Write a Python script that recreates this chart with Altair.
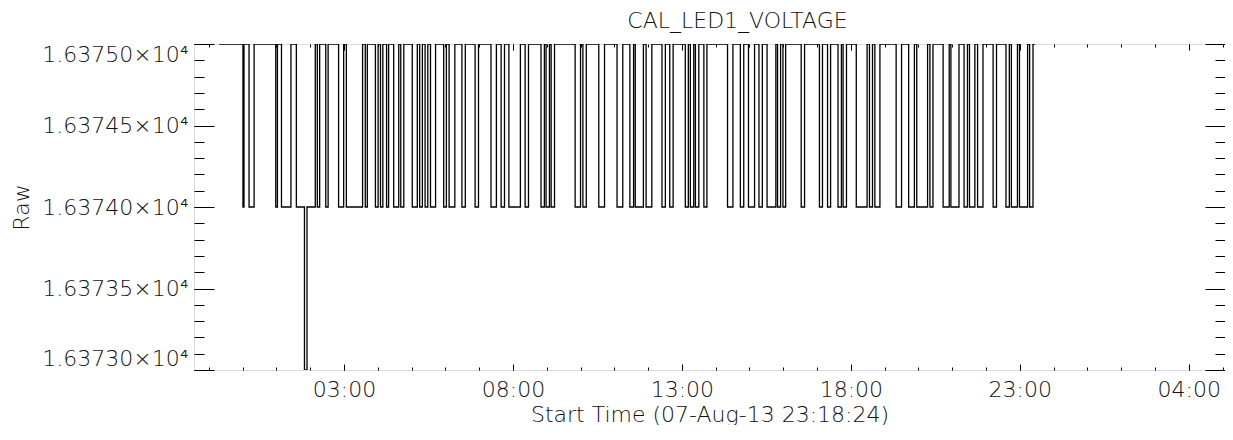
import altair as alt
import pandas as pd

# Transition times, hours relative to 08-Aug 00:00 (start time 07-Aug-13 23:18:24)
t_start = -0.693
t_end = 23.45
level_hi = 16375.0
level_lo = 16374.0
spike_level = 16373.0
spike_start = [1.83]
spike_end = [1.905]

dip_start = [0.01, 0.19, 0.98, 1.15, 1.59, 2.21, 2.46, 2.84, 3.07, 3.63,
             3.93, 4.08, 4.26, 4.47, 4.68, 5.02, 5.24, 5.40, 5.56, 5.95,
             6.11, 6.49, 6.88, 7.35, 7.65, 7.88, 8.36, 8.83, 8.98, 9.13,
             9.84, 10.07, 10.54, 11.08, 11.46, 11.62, 11.94, 12.41, 12.64, 13.10,
             13.25, 13.40, 13.65, 14.35, 14.73, 14.97, 15.28, 15.52, 15.83, 15.99,
             16.53, 17.07, 17.31, 17.62, 17.77, 18.16, 18.55, 18.71, 19.34, 19.71,
             19.95, 20.34, 20.73, 20.96, 21.35, 21.51, 21.75, 22.21, 22.59, 22.75,
             22.99, 23.29]
dip_end = [0.04, 0.34, 1.03, 1.43, 2.15, 2.28, 2.53, 2.99, 3.55, 3.69,
           4.01, 4.15, 4.32, 4.62, 4.77, 5.17, 5.32, 5.48, 5.71, 6.03,
           6.28, 6.59, 6.98, 7.51, 7.75, 8.22, 8.46, 8.93, 9.08, 9.23,
           10.00, 10.17, 10.71, 11.25, 11.57, 11.86, 12.11, 12.51, 12.74, 13.19,
           13.35, 13.50, 13.74, 14.51, 14.83, 15.15, 15.38, 15.78, 15.92, 16.07,
           16.63, 17.16, 17.40, 17.72, 17.87, 18.48, 18.64, 18.86, 19.50, 19.88,
           20.27, 20.43, 20.91, 21.20, 21.45, 21.67, 21.91, 22.31, 22.69, 22.93,
           23.23, 23.39]

x_major = [3, 8, 13, 18, 23, 28]
x_minor = list(range(-1, 30))
y_major = [16373.0, 16373.5, 16374.0, 16374.5, 16375.0]
y_minor = [round(16373.0 + 0.1 * i, 1) for i in range(21)]

rows = [(t_start, level_hi)]
for s, e in zip(dip_start, dip_end):
    rows.append((s, level_lo))
    rows.append((e, level_hi))
for s, e in zip(spike_start, spike_end):
    rows.append((s, spike_level))
    rows.append((e, level_lo))
rows.append((t_end, level_hi))
rows.sort()
df = pd.DataFrame(rows, columns=["t", "v"])

W, H = 1031, 326
FONT = "DejaVu Sans"
FS = 22
TXT = "#111111"
xs = alt.Scale(domain=[-1.439, 29.072], nice=False, zero=False)
ys = alt.Scale(domain=[16373.0, 16375.0], nice=False, zero=False)

def tick_layer(xaxis, yaxis):
    return alt.Chart(df).mark_line(opacity=0).encode(
        x=alt.X("t:Q", scale=xs, axis=xaxis),
        y=alt.Y("v:Q", scale=ys, axis=yaxis),
    )

common = dict(domain=False, labels=False, grid=False, title=None,
              tickColor="black", tickWidth=1)

main = alt.Chart(df).mark_line(
    interpolate="step-after", color="black", strokeWidth=1.3, clip=True
).encode(
    x=alt.X("t:Q", scale=xs, axis=alt.Axis(
        orient="bottom", values=x_major, tickSize=0, domain=False, grid=False,
        labelExpr="(datum.value % 24 < 10 ? '0' : '') + (datum.value % 24) + ':00'",
        labelPadding=9, labelFont=FONT, labelFontSize=FS, labelColor=TXT,
        labelFontWeight=300,
        title="Start Time (07-Aug-13 23:18:24)", titleFont=FONT, titleFontSize=FS,
        titleFontWeight=300, titleColor=TXT, titleY=34)),
    y=alt.Y("v:Q", scale=ys, axis=alt.Axis(
        orient="left", values=y_major, tickSize=0, domain=False, grid=False,
        labelExpr="format(datum.value / 10000, '.5f') + '×10⁴'",
        labelFlush=True, labelPadding=6, labelFont=FONT, labelFontSize=FS,
        labelColor=TXT, labelFontWeight=300,
        title="Raw", titleFont=FONT, titleFontSize=FS, titleFontWeight=300,
        titleColor=TXT, titleX=-173, titleY=163, titleBaseline="middle")),
)

layers = [
    main,
    tick_layer(alt.Axis(orient="top", offset=-H, values=x_major, tickSize=6, **common),
               alt.Axis(orient="right", offset=-W, values=y_major, tickSize=20, **common)),
    tick_layer(alt.Axis(orient="top", offset=-H, values=x_minor, tickSize=3, **common),
               alt.Axis(orient="right", offset=-W, values=y_minor, tickSize=10, **common)),
    tick_layer(alt.Axis(orient="bottom", offset=-H, values=x_major, tickSize=6, **common),
               alt.Axis(orient="left", offset=-W, values=y_major, tickSize=20, **common)),
    tick_layer(alt.Axis(orient="bottom", offset=-H, values=x_minor, tickSize=3, **common),
               alt.Axis(orient="left", offset=-W, values=y_minor, tickSize=10, **common)),
]

chart = alt.layer(*layers).resolve_axis(x="independent", y="independent").properties(
    width=W, height=H,
    title=alt.TitleParams("CAL_LED1_VOLTAGE", font=FONT, fontSize=FS, fontWeight=300,
                          color=TXT, anchor="middle", offset=10, dx=28),
    autosize=alt.AutoSizeParams(type="none"),
    padding={"left": 186, "top": 36, "right": 0, "bottom": 55},
).configure_view(stroke="black", strokeWidth=1.3).configure(background="white")

chart.save("out.html", embed_options={"renderer": "svg", "actions": False})
